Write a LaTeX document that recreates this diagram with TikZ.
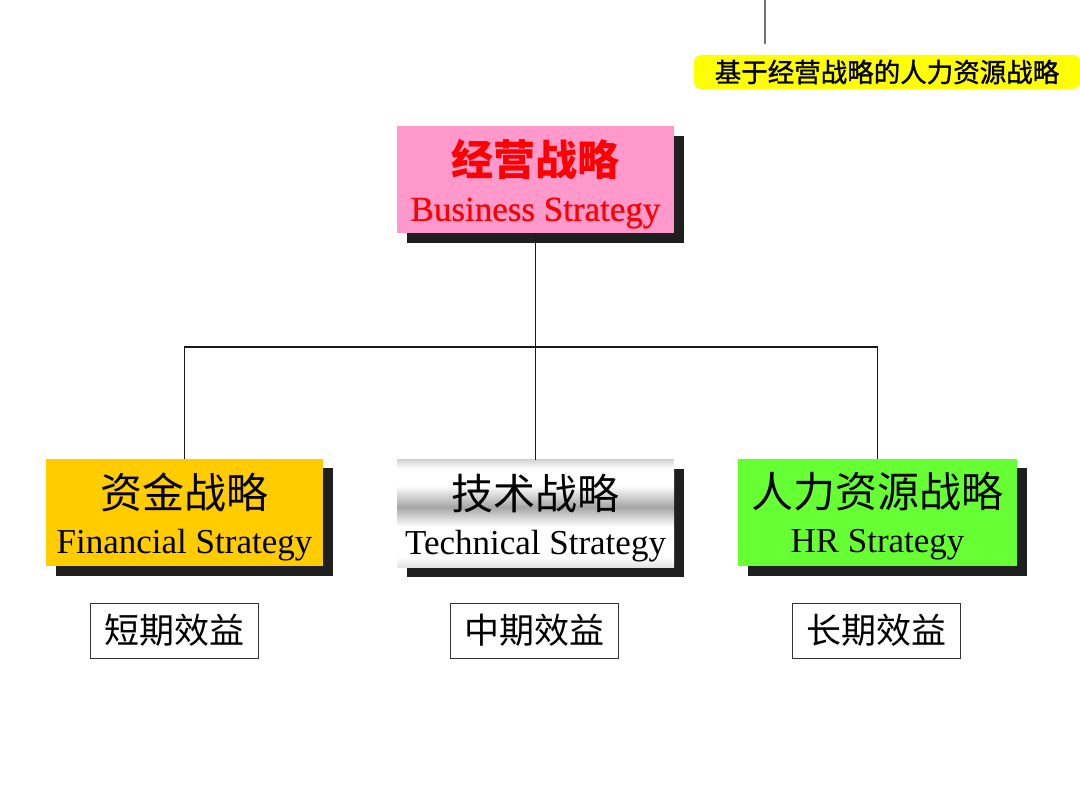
\documentclass[tikz,border=0pt]{standalone}
\usepackage{fontspec}
\setmainfont{Liberation Serif}
\newfontfamily\cjk{Noto Sans CJK SC}
\newfontfamily\cjkmed[FakeBold=1.2]{Noto Sans CJK SC}
\newfontfamily\redserif[FakeBold=0.8]{Liberation Serif}
\usetikzlibrary{shadows}
\definecolor{pinkbox}{HTML}{FF99CC}
\definecolor{orangebox}{HTML}{FFCC00}
\definecolor{greenbox}{HTML}{66FF33}
\definecolor{redtext}{HTML}{FF0000}
\definecolor{yellowtag}{HTML}{FFFF00}
\pgfdeclareverticalshading{metal}{100bp}{color(0bp)=(black!25); color(6bp)=(black!12); color(15bp)=(black!32); color(30bp)=(white); color(44bp)=(white); color(53bp)=(black!35); color(63bp)=(white); color(71bp)=(white); color(82bp)=(black!45); color(94bp)=(white); color(100bp)=(black!20)}
\tikzset{
  stratbox/.style={minimum width=277pt, minimum height=107pt, inner sep=0pt,
    drop shadow={shadow xshift=9.5pt, shadow yshift=-9.5pt, fill=black!88, opacity=1}},
  strattext/.style={inner sep=0pt, align=center, font=\fontsize{35}{45}\selectfont},
  benefit/.style={draw=black!80, line width=0.8pt, fill=white, minimum width=168pt, minimum height=55pt, inner sep=0pt,
    font=\cjk\fontsize{35}{40}\selectfont},
  link/.style={draw=black!90, line width=1.1pt}
}
\newcommand{\zhbig}[1]{{\cjk\fontsize{42}{45}\selectfont #1}}
\begin{document}
\begin{tikzpicture}[x=1pt, y=-1pt]
\useasboundingbox (0,0) rectangle (1080,810);
% top tag
\coordinate (ttop) at (765,0);
\coordinate (tbot) at (765,44);
\draw[black!55, line width=1.4pt] (ttop) -- (tbot);
\node[fill=yellowtag, rounded corners=7pt, minimum width=386pt, minimum height=34pt, inner sep=0pt,
  font=\cjkmed\fontsize{26.5}{28}\selectfont] (tag) at (887,72) {基于经营战略的人力资源战略};
% boxes
\node[stratbox, fill=pinkbox] (biz) at (535.5,180) {};
\node[stratbox, fill=orangebox] (fin) at (184.5,512.5) {};
\node[stratbox, shading=metal] (tech) at (535.5,513.5) {};
\node[stratbox, fill=greenbox, minimum width=279pt] (hr) at (877.5,512.5) {};
% box texts
\node[strattext, text=redtext] (bizt) at ([yshift=-4pt]biz.center)
  {{\cjk\bfseries\fontsize{42}{45}\selectfont 经营战略}\\{\redserif Business Strategy}};
\node[strattext] (fint) at ([yshift=-4pt]fin.center) {\zhbig{资金战略}\\Financial Strategy};
\node[strattext] (techt) at ([yshift=-5pt]tech.center) {\zhbig{技术战略}\\Technical Strategy};
\node[strattext] (hrt) at ([yshift=-4pt]hr.center) {\zhbig{人力资源战略}\\HR Strategy};
% connectors
\coordinate (j) at (535.5,347);
\draw[link] (biz.south) -- (tech.north);
\draw[link] (fin.north) -- (fin.north |- j) -- (hr.north |- j) -- (hr.north);
% benefits
\node[benefit] (b1) at (174,630.5) {短期效益};
\node[benefit] (b2) at (534,630.5) {中期效益};
\node[benefit] (b3) at (876,630.5) {长期效益};
\end{tikzpicture}
\end{document}
